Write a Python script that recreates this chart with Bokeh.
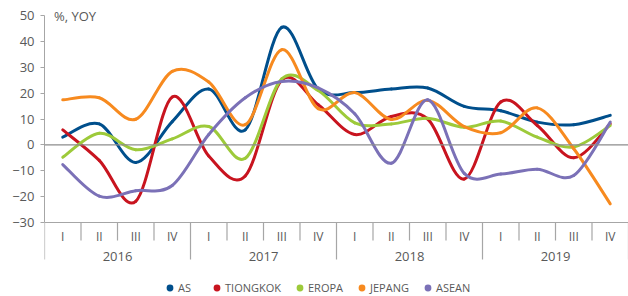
from bokeh.plotting import figure
from bokeh.models import (Range1d, FixedTicker, Span, Label, Legend, LegendItem,
                          ColumnDataSource)
from bokeh.core.properties import value
from bokeh.embed import file_html
from bokeh.resources import INLINE

# ---------------- data ----------------
years = ["2016", "2017", "2018", "2019"]
quarters = ["I", "II", "III", "IV"]
series_names = ["AS", "TIONGKOK", "EROPA", "JEPANG", "ASEAN"]

AS = [3.0, 8.1, -6.8, 9.0, 21.6, 5.8, 45.4, 21.5, 20.2, 21.6, 22.0, 14.9, 13.2, 8.8, 7.8, 11.4]
TIONGKOK = [5.8, -6.0, -21.8, 18.5, -4.3, -12.0, 25.0, 15.5, 4.0, 11.0, 10.0, -13.2, 16.6, 7.5, -5.0, 8.1]
EROPA = [-4.8, 4.5, -1.9, 2.3, 7.1, -5.2, 25.5, 21.0, 8.5, 8.1, 10.3, 6.8, 9.2, 3.0, -0.8, 7.5]
JEPANG = [17.4, 18.2, 9.9, 28.4, 24.3, 7.8, 36.8, 14.0, 20.2, 9.8, 17.2, 7.1, 4.7, 14.3, -1.5, -22.8]
ASEAN = [-7.6, -19.8, -17.7, -15.7, 4.0, 18.2, 24.5, 22.0, 12.0, -7.1, 17.4, -11.0, -11.3, -9.4, -11.8, 8.8]

y_ticks = [-30, -20, -10, 0, 10, 20, 30, 40, 50]
y_title = "%, YOY"

colors = ["#004f8c", "#c8141f", "#9dca3a", "#f78a1f", "#7b71b7"]
TEXT = "#595959"
FONT = "Open Sans"

# ---------------- figure ----------------
n = len(years) * len(quarters)
p = figure(width=628, height=296, output_backend="svg", toolbar_location=None,
           x_range=Range1d(0, n), y_range=Range1d(-58.6, 55.8),
           x_axis_location=None, min_border_left=44, min_border_right=0,
           min_border_top=0, min_border_bottom=0)
p.outline_line_color = None
p.xgrid.visible = False
p.ygrid.visible = False
p.background_fill_color = "white"

yax = p.yaxis[0]
yax.bounds = (y_ticks[0], y_ticks[-1])
yax.ticker = FixedTicker(ticks=y_ticks)
yax.major_tick_out = 4
yax.major_tick_in = 0
yax.minor_tick_out = 0
yax.minor_tick_in = 0
yax.axis_line_color = "#a6a6a6"
yax.major_tick_line_color = "#a6a6a6"
yax.major_label_text_font = FONT
yax.major_label_text_font_size = "13px"
yax.major_label_text_color = TEXT
yax.major_label_standoff = 6

# zero line and bottom axis line
p.add_layout(Span(location=0, dimension="width", line_color="#8c8c8c", line_width=1.3))
p.add_layout(Span(location=y_ticks[0], dimension="width", line_color="#a6a6a6", line_width=1.2))

# category axis: separators and labels
bounds_q = [i for i in range(n + 1) if i % 4 != 0]
bounds_y = [i for i in range(n + 1) if i % 4 == 0]
p.segment(x0=bounds_q, x1=bounds_q, y0=[y_ticks[0]] * len(bounds_q), y1=[-37.0] * len(bounds_q),
          line_color="#a6a6a6", line_width=1.2)
p.segment(x0=bounds_y, x1=bounds_y, y0=[y_ticks[0]] * len(bounds_y), y1=[-44.3] * len(bounds_y),
          line_color="#a6a6a6", line_width=1.2)

q_x = [i + 0.5 for i in range(n)]
q_lab = [quarters[i % 4] for i in range(n)]
p.text(x=q_x, y=[-35.6] * n, text=q_lab, text_align="center", text_baseline="middle",
       text_font=value(FONT), text_font_size="12px", text_color=TEXT)
yr_x = [4 * k + 2 for k in range(len(years))]
p.text(x=yr_x, y=[-43.0] * len(years), text=years, text_align="center", text_baseline="middle",
       text_font=value(FONT), text_font_size="13px", text_color=TEXT)

p.add_layout(Label(x=0.26, y=50, text=y_title, text_baseline="middle",
                   text_font=FONT, text_font_size="13px", text_color=TEXT))

# ---------------- smooth lines ----------------
def bezier_source(vals):
    xs = [i + 0.5 for i in range(len(vals))]
    m = len(vals)
    d = dict(x0=[], y0=[], x1=[], y1=[], cx0=[], cy0=[], cx1=[], cy1=[])
    for i in range(m - 1):
        xm1, ym1 = (xs[i - 1], vals[i - 1]) if i > 0 else (xs[i], vals[i])
        xp2, yp2 = (xs[i + 2], vals[i + 2]) if i + 2 < m else (xs[i + 1], vals[i + 1])
        d["x0"].append(xs[i]); d["y0"].append(vals[i])
        d["x1"].append(xs[i + 1]); d["y1"].append(vals[i + 1])
        d["cx0"].append(xs[i] + (xs[i + 1] - xm1) / 6)
        d["cy0"].append(vals[i] + (vals[i + 1] - ym1) / 6)
        d["cx1"].append(xs[i + 1] - (xp2 - xs[i]) / 6)
        d["cy1"].append(vals[i + 1] - (yp2 - vals[i]) / 6)
    return ColumnDataSource(d)

items = []
for name, vals, col in zip(series_names, [AS, TIONGKOK, EROPA, JEPANG, ASEAN], colors):
    src = bezier_source(vals)
    p.bezier(x0="x0", y0="y0", x1="x1", y1="y1", cx0="cx0", cy0="cy0", cx1="cx1", cy1="cy1",
             source=src, line_color=col, line_width=3, line_cap="round")
    r = p.scatter(x=q_x, y=vals, size=0, fill_color=col, line_color=None)
    items.append(LegendItem(label=name, renderers=[r]))

legend = Legend(items=items, orientation="horizontal", location=(117, 0), padding=0, margin=0,
                spacing=10, glyph_width=17, glyph_height=17, label_standoff=0,
                label_text_font=FONT, label_text_font_size="11px", label_text_color=TEXT,
                border_line_color=None, background_fill_alpha=0)
p.add_layout(legend)

open("out.html", "w").write(file_html(p, INLINE))
